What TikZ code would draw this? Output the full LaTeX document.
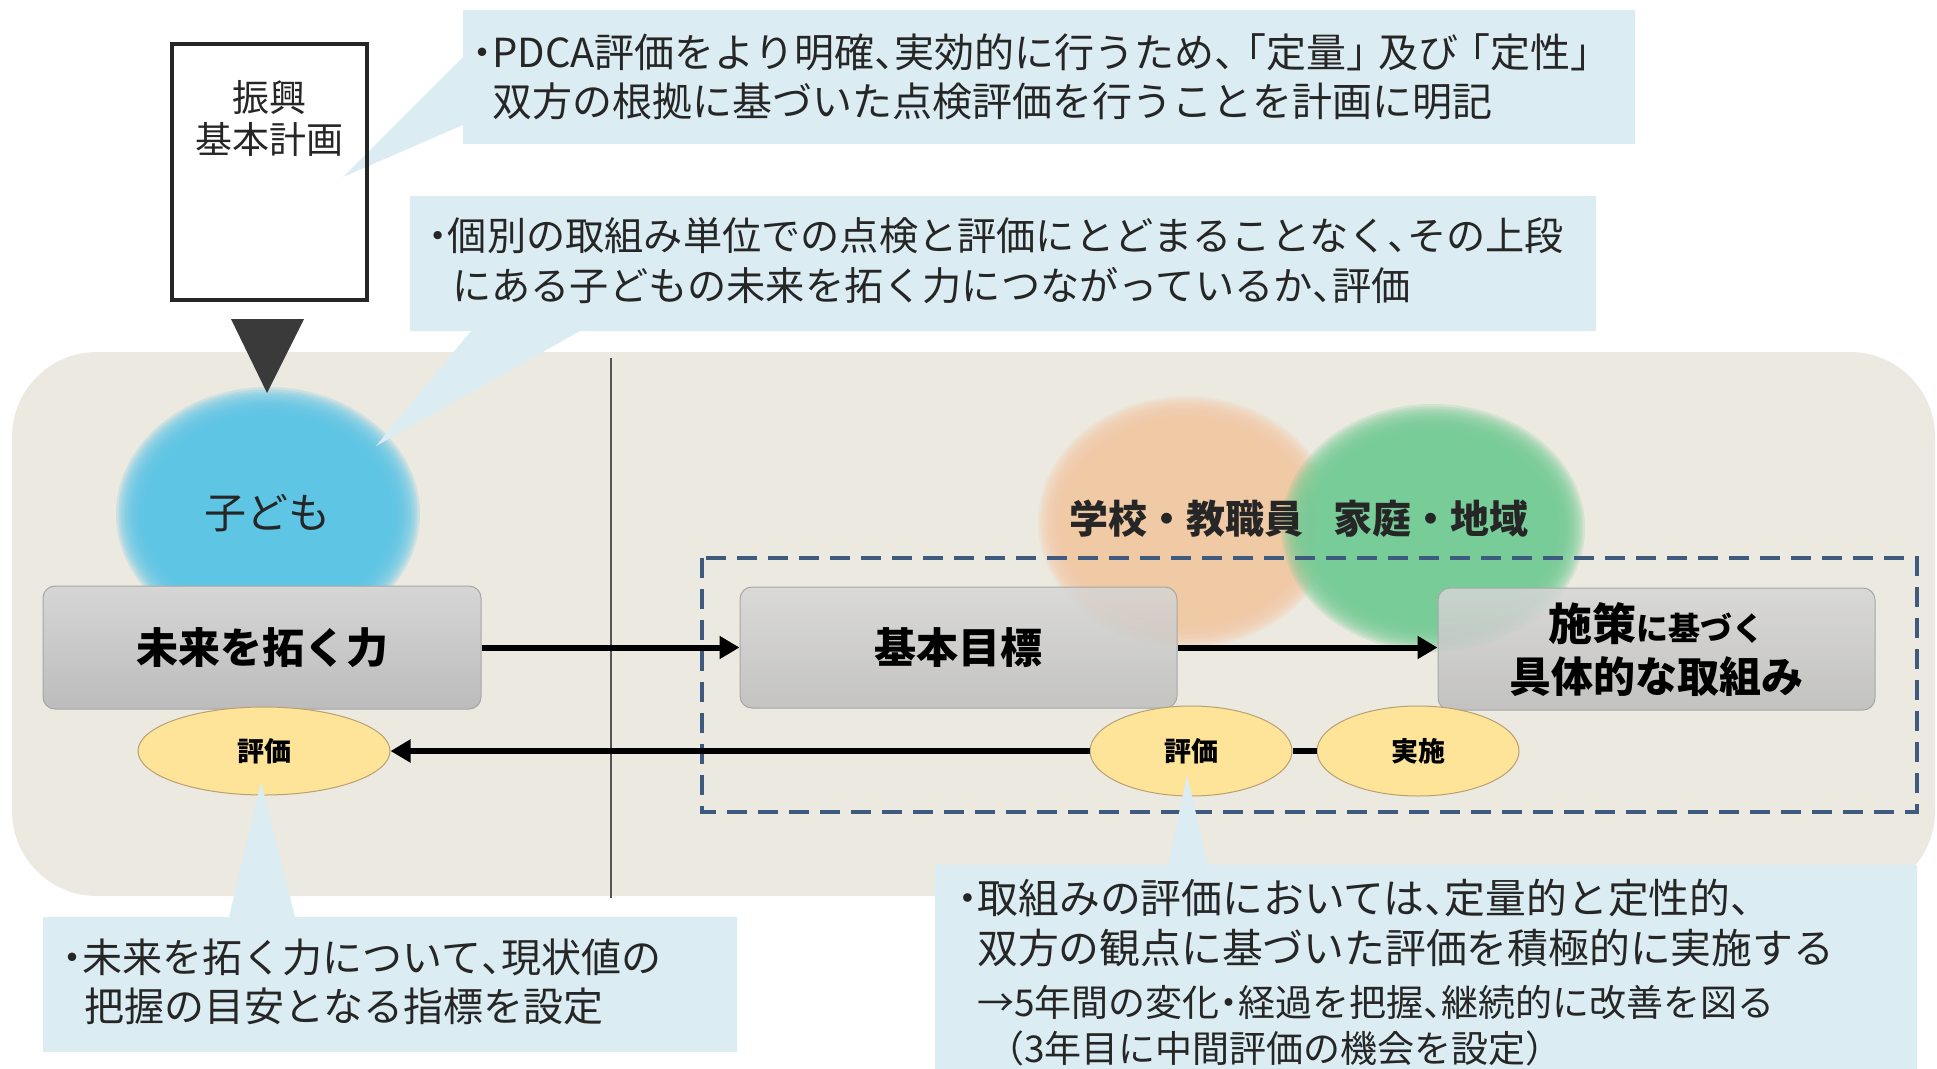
\documentclass[tikz,border=0pt]{standalone}
\usepackage{fontspec}
\newfontfamily\jp{Noto Sans CJK JP}
\usetikzlibrary{arrows.meta,shapes.geometric}
\definecolor{beige}{HTML}{ECEAE0}
\definecolor{calloutc}{HTML}{DBEDF2}
\definecolor{boxtop}{HTML}{D6D6D6}
\definecolor{boxbot}{HTML}{BCBCBC}
\definecolor{boxline}{HTML}{A6A6A6}
\definecolor{evalfill}{HTML}{FDE499}
\definecolor{ellline}{HTML}{B8A070}
\definecolor{dashc}{HTML}{3E5A7E}
\definecolor{blobblue}{HTML}{5CC5E8}
\definecolor{bloborange}{HTML}{F4C9A5}
\definecolor{blobgreen}{HTML}{76CC97}
\definecolor{txt}{HTML}{262626}
\definecolor{vlinec}{HTML}{555555}
\definecolor{tric}{HTML}{3A3A3A}
\newcommand\jtc{\makebox[0.5em][l]{、}}
\newcommand\jnk{\makebox[0.5em][c]{・}}
\newcommand\jkl{\makebox[0.8em][r]{「}}
\newcommand\jkr{\makebox[0.8em][l]{」}}
\newcommand\softblob[5]{%
  \foreach \k in {0,...,13}{%
    \fill[#5, fill opacity=0.22] (#1,#2) ellipse [x radius={(#3+15-2.3*\k)*1pt}, y radius={(#4+15-2.3*\k)*1pt}];}}
\tikzset{
  cotext/.style={anchor=base west, inner sep=0pt, font=\jp\fontsize{40}{48}\selectfont, text=txt},
  cotextsm/.style={anchor=base west, inner sep=0pt, font=\jp\fontsize{37}{44}\selectfont, text=txt},
  graybox/.style={draw=boxline, line width=1pt, rounded corners=12pt, top color=boxtop, bottom color=boxbot,
    inner sep=0pt, text=black, font=\jp\bfseries\fontsize{42}{52}\selectfont, align=center},
  evalell/.style={ellipse, draw=ellline, fill=evalfill, line width=1pt, inner sep=0pt, text=black,
    font=\jp\bfseries\fontsize{27}{32}\selectfont},
  arr/.style={line width=6pt, -{Triangle[length=20pt,width=22pt]}},
  linkline/.style={line width=6pt},
  callout/.style={fill=calloutc},
  bloblabel/.style={inner sep=0pt, text=txt, font=\jp\bfseries\fontsize{39}{46}\selectfont},
  plantext/.style={inner sep=0pt, text=txt, font=\jp\fontsize{37}{44}\selectfont}
}
\begin{document}
\begin{tikzpicture}[x=1pt,y=-1pt]
\useasboundingbox (0,0) rectangle (1937,1068);
\fill[white] (0,0) rectangle (1937,1068);
% background panel
\fill[beige, rounded corners=85pt] (12,352) rectangle (1935,896);
\draw[vlinec, line width=1.8pt] (611,358) -- (611,898);
% soft blobs
\softblob{268}{514}{137}{112}{blobblue}
\softblob{1186}{522}{133}{111}{bloborange}
\softblob{1433}{528}{137}{109}{blobgreen}
% boxes
\node[graybox, minimum width=438pt, minimum height=123pt] (mirai) at (262,647.5) {未来を拓く力};
\node[graybox, fill opacity=0.82, text opacity=1, minimum width=437pt, minimum height=121pt] (kihon) at (958.5,647.5) {基本目標};
\node[graybox, fill opacity=0.85, text opacity=1, minimum width=437pt, minimum height=122pt] (shisaku) at (1656.5,649)
  {{\fontsize{44}{52}\selectfont 施策}{\fontsize{32}{40}\selectfont に基づく}\\具体的な取組み};
% blob labels
\node[inner sep=0pt, text=txt, font=\jp\fontsize{42}{50}\selectfont] (kodomo) at (267,513) {子ども};
\node[bloblabel] (gakko) at (1186,519) {学校・教職員};
\node[bloblabel] (katei) at (1431,519) {家庭・地域};
% dashed frame
\draw[dashc, line width=3.5pt, dash pattern=on 20pt off 11pt] (702,558) rectangle (1917,812);
% evaluation ellipses
\node[evalell, minimum width=252pt, minimum height=88pt] (hyoka1) at (264,751) {評価};
\node[evalell, minimum width=202pt, minimum height=90pt] (hyoka2) at (1191,751) {評価};
\node[evalell, minimum width=202pt, minimum height=90pt] (jisshi) at (1418,751) {実施};
% connectors
\draw[arr] (mirai.east) -- (mirai.east -| kihon.west);
\draw[arr] (kihon.east) -- (kihon.east -| shisaku.west);
\draw[arr] (hyoka2.west) -- (hyoka1.east);
\draw[linkline] (hyoka2.east) -- (jisshi.west);
% plan box and arrow triangle
\node[fill=white, minimum width=195pt, minimum height=256pt, inner sep=0pt] (plan) at (269.5,172) {};
\fill[tric] (231,319) -- (304,319) -- (267,393) -- cycle;
% callouts
\fill[callout] (463,10) -- (1635,10) -- (1635,144) -- (463,144) -- (463,125) -- (343,177) -- (463,57) -- cycle;
\fill[callout] (410,196) -- (1596,196) -- (1596,331) -- (580,331) -- (376,446) -- (471,331) -- (410,331) -- cycle;
\fill[callout] (43,917) -- (229,917) -- (261,782) -- (295,917) -- (737,917) -- (737,1052) -- (43,1052) -- cycle;
\fill[callout] (935,865) -- (1168,865) -- (1187,775) -- (1208,865) -- (1917,865) -- (1917,1075) -- (935,1075) -- cycle;
\draw[line width=4pt, black!85] (plan.north west) rectangle (plan.south east);
\node[plantext] (plan1) at (269,97) {振興};
\node[plantext] (plan2) at (269,139) {基本計画};
% callout texts
\node[cotext] (c1a) at (472,67) {\jnk PDCA評価をより明確\jtc 実効的に行うため\jtc\jkl 定量\jkr 及び\jkl 定性\jkr};
\node[cotext] (c1b) at (492,116) {双方の根拠に基づいた点検評価を行うことを計画に明記};
\node[cotext, font=\jp\fontsize{39.2}{48}\selectfont] (c2a) at (428,250) {\jnk 個別の取組み単位での点検と評価にとどまることなく\jtc その上段};
\node[cotext, font=\jp\fontsize{39.2}{48}\selectfont] (c2b) at (452,300) {にある子どもの未来を拓く力につながっているか\jtc 評価};
\node[cotext] (c3a) at (62,972) {\jnk 未来を拓く力について\jtc 現状値の};
\node[cotext] (c3b) at (84,1021) {把握の目安となる指標を設定};
\node[cotext, font=\jp\fontsize{40.8}{48}\selectfont] (c4a) at (957,913) {\jnk 取組みの評価においては\jtc 定量的と定性的\jtc};
\node[cotext, font=\jp\fontsize{40.8}{48}\selectfont] (c4b) at (977,963) {双方の観点に基づいた評価を積極的に実施する};
\node[cotextsm] (c4c) at (977,1016) {→5年間の変化\jnk 経過を把握\jtc 継続的に改善を図る};
\node[cotextsm] (c4d) at (987,1062) {（3年目に中間評価の機会を設定）};
\end{tikzpicture}
\end{document}
